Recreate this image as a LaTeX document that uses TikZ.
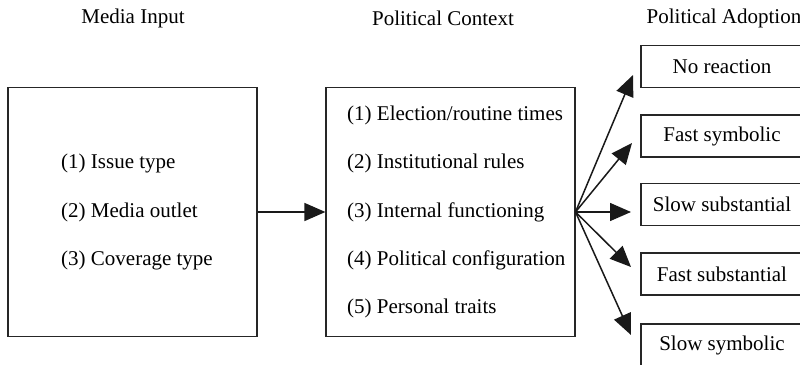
\documentclass[tikz,border=0pt]{standalone}
\usepackage{fontspec}
\setmainfont{Liberation Serif}
\usetikzlibrary{arrows.meta}
\tikzset{
  box/.style={draw=black!85, line width=1.2pt, inner sep=0pt},
  outbox/.style={box, minimum width=162pt, minimum height=42pt, font=\fontsize{21}{24}\selectfont},
  title/.style={font=\fontsize{21}{24}\selectfont},
  item/.style={anchor=west, inner sep=0pt, font=\fontsize{21}{24}\selectfont},
  arr/.style={line width=1.5pt, draw=black!90, -{Triangle[length=21pt,width=18pt]}}
}
\begin{document}
\begin{tikzpicture}[x=1pt,y=-1pt]
\useasboundingbox (0,0) rectangle (800,364);
\clip (0,0) rectangle (800,364);
% titles
\node[title] (t1) at (133,18) {Media Input};
\node[title] (t2) at (443,18) {Political Context};
\node[title] (t3) at (724,18) {Political Adoption};
% left box
\node[box, minimum width=249pt, minimum height=249pt] (media) at (132.5,212) {};
\node[item] (m1) at (61,163) {(1) Issue type};
\node[item] (m2) at (61,212) {(2) Media outlet};
\node[item] (m3) at (61,260) {(3) Coverage type};
% middle box
\node[box, minimum width=249pt, minimum height=249pt] (ctx) at (450.5,212) {};
\node[item] (c1) at (347,115) {(1) Election/routine times};
\node[item] (c2) at (347,163) {(2) Institutional rules};
\node[item] (c3) at (347,212) {(3) Internal functioning};
\node[item] (c4) at (347,260) {(4) Political configuration};
\node[item] (c5) at (347,308) {(5) Personal traits};
% right boxes
\node[outbox] (nr) at (722,66.5) {No reaction};
\node[outbox] (fsy) at (722,136) {Fast symbolic};
\node[outbox] (ssu) at (722,204.5) {Slow substantial};
\node[outbox] (fsu) at (722,274) {Fast substantial};
\node[outbox] (ssy) at (722,345) {Slow symbolic};
% arrows
\draw[arr] (media.east) -- (ctx.west);
\coordinate (src) at (575.5,212);
\coordinate (p1) at (633,75);
\coordinate (p2) at (632,143);
\coordinate (p3) at (631,212);
\coordinate (p4) at (631,267);
\coordinate (p5) at (631,335);
\foreach \p in {p1,p2,p3,p4,p5} \draw[arr] (src) -- (\p);
\end{tikzpicture}
\end{document}
